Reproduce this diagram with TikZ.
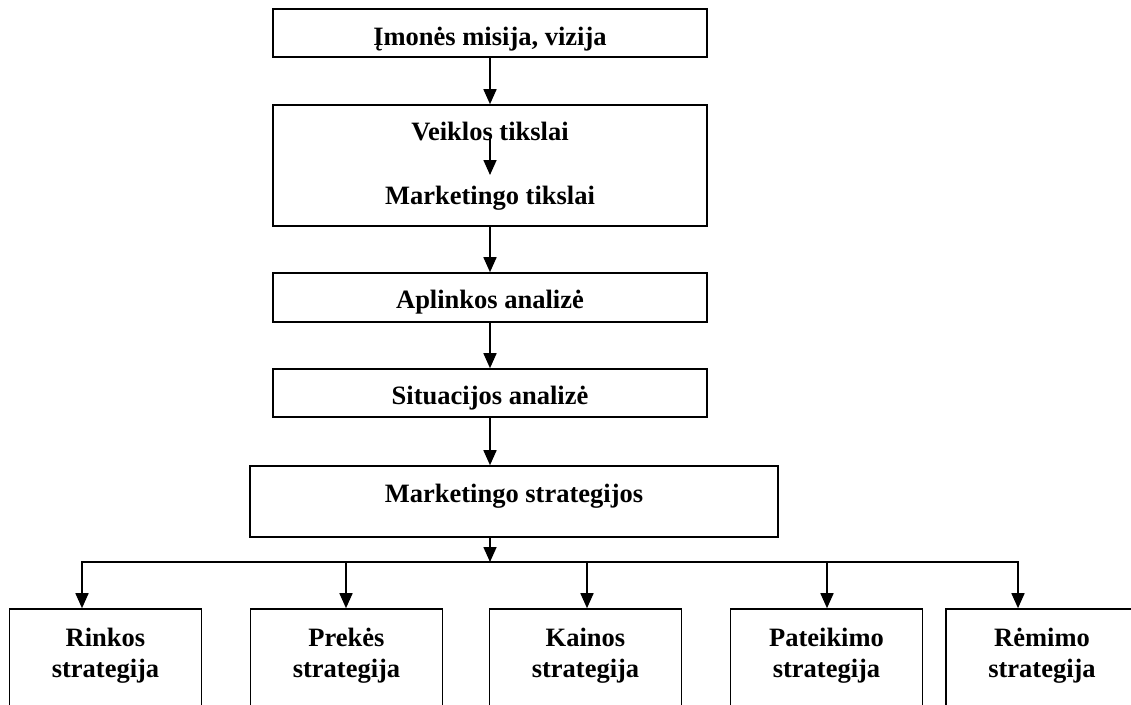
\documentclass[tikz,border=0pt]{standalone}
\usepackage{fontspec}
\setmainfont{Liberation Serif}
\usetikzlibrary{arrows.meta,calc}
\begin{document}
\begin{tikzpicture}[x=1pt,y=-1pt,
  frame/.style={draw, line width=1.6pt, inner sep=0pt},
  lbl/.style={inner sep=0pt, font=\fontsize{26.5}{31}\selectfont\bfseries, align=center},
  arr/.style={line width=1.6pt, -{Triangle[length=15pt,width=13pt]}},
  bus/.style={line width=1.6pt, line cap=rect},
  strat/.style={frame, minimum width=192pt, minimum height=111pt}
]
\useasboundingbox (0,0) rectangle (1131,704);
\clip (0,0) rectangle (1131,704);

% planning chain
\node[frame, minimum width=434pt, minimum height=48pt] (mis) at (490,33) {};
\node[lbl, anchor=base] (misT) at (490,45) {Įmonės misija, vizija};

\node[frame, minimum width=434pt, minimum height=121pt] (tik) at (490,165.5) {};
\node[lbl, anchor=base] (vt) at (490,140) {Veiklos tikslai};
\node[lbl, anchor=base] (mt) at (490,204) {Marketingo tikslai};

\node[frame, minimum width=434pt, minimum height=49pt] (apl) at (490,297.5) {};
\node[lbl, anchor=base] (aplT) at (490,308) {Aplinkos analizė};

\node[frame, minimum width=434pt, minimum height=48pt] (sit) at (490,393) {};
\node[lbl, anchor=base] (sitT) at (490,404) {Situacijos analizė};

\node[frame, minimum width=528pt, minimum height=71pt] (str) at (514,501.5) {};
\node[lbl, anchor=base] (strT) at (514,502) {Marketingo strategijos};

% strategy boxes (running off the lower edge)
\node[strat] (s1) at (105.5,664.5) {};
\node[strat] (s2) at (346.5,664.5) {};
\node[strat] (s3) at (585.5,664.5) {};
\node[strat] (s4) at (826.5,664.5) {};
\node[strat] (s5) at (1042,664.5) {};
\node[lbl, anchor=north] (t1) at (105.5,628) {Rinkos\\strategija};
\node[lbl, anchor=north] (t2) at (346.5,628) {Prekės\\strategija};
\node[lbl, anchor=north] (t3) at (585.5,628) {Kainos\\strategija};
\node[lbl, anchor=north] (t4) at (826.5,628) {Pateikimo\\strategija};
\node[lbl, anchor=north] (t5) at (1042,628) {Rėmimo\\strategija};

% connectors
\draw[arr] (mis.south) -- (tik.north);
\draw[arr] ($(vt.base)+(0,-3)$) -- ($(mt.base)+(0,-29)$);
\draw[arr] (tik.south) -- (apl.north);
\draw[arr] (apl.south) -- (sit.north);
\draw[arr] (sit.south) -- (sit.south |- str.north);

\coordinate (j)  at (490,562);
\coordinate (b1) at (82,562);
\coordinate (b2) at (346,562);
\coordinate (b3) at (587,562);
\coordinate (b4) at (827,562);
\coordinate (b5) at (1018,562);

\draw[arr] (str.south -| sit.south) -- (j);
\draw[bus] (b1) -- (b5);
\draw[arr] (b1) -- (b1 |- s1.north);
\draw[arr] (b2) -- (b2 |- s2.north);
\draw[arr] (b3) -- (b3 |- s3.north);
\draw[arr] (b4) -- (b4 |- s4.north);
\draw[arr] (b5) -- (b5 |- s5.north);
\end{tikzpicture}
\end{document}
